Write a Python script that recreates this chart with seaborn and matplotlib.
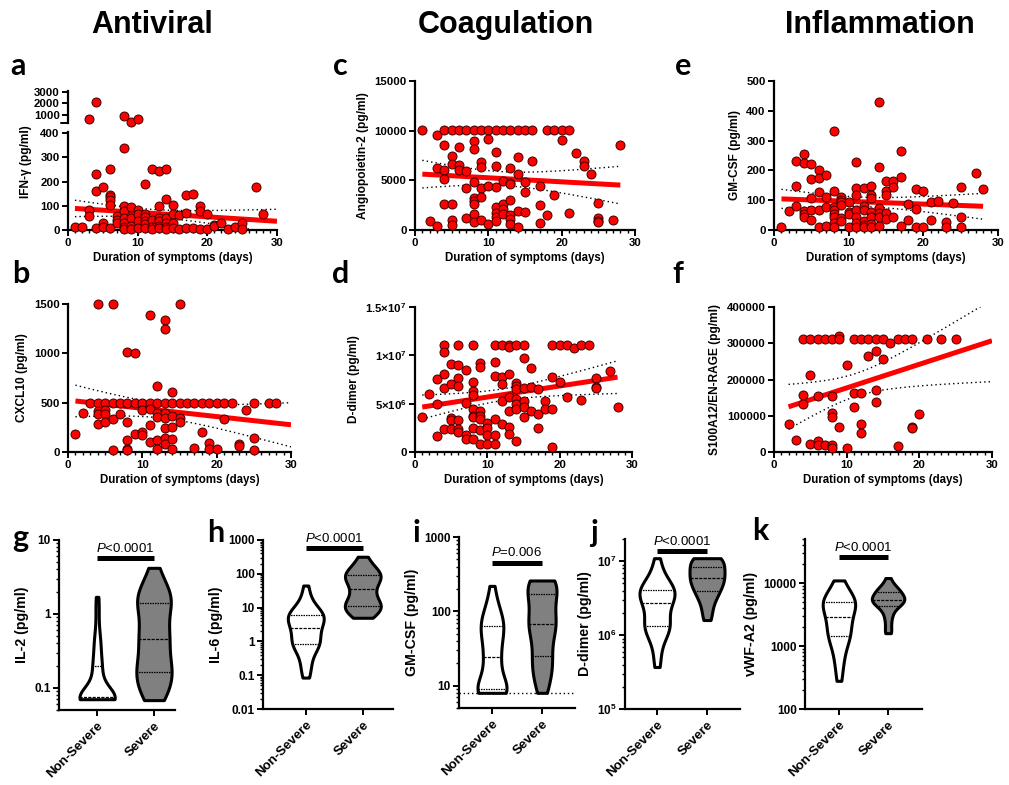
import matplotlib
matplotlib.use("Agg")
import matplotlib.pyplot as plt
import numpy as np
import pandas as pd
import seaborn as sns
from matplotlib.ticker import MultipleLocator, NullFormatter

W, H = 1009, 785

# ---------------- scatter data (day of symptoms, concentration pg/ml) ----------------
a_days = [1, 2, 3, 3, 3, 4, 4, 4, 4, 5, 5, 5, 6, 6, 6, 6, 6, 6, 7, 7, 7,
          8, 8, 8, 8, 8, 8, 8, 8, 9, 9, 9, 9, 9, 10, 10, 10, 10, 10,
          11, 11, 11, 11, 11, 11, 12, 12, 12, 12, 13, 13, 13, 13, 13, 13,
          14, 14, 14, 14, 14, 14, 15, 15, 15, 15, 16, 16, 17, 17, 17, 18, 18,
          19, 19, 19, 20, 20, 21, 21, 22, 23, 24, 25, 25, 27, 28]
a_ifng = [11, 14, 690, 83, 58, 2150, 230, 163, 10, 177, 28, 14, 252, 146, 138, 124, 102, 10, 59, 41, 28,
          970, 340, 99, 80, 51, 28, 14, 4, 465, 97, 48, 17, 4, 660, 83, 66, 37, 7,
          190, 65, 52, 39, 23, 10, 254, 41, 14, 4, 245, 100, 51, 39, 17, 7,
          252, 127, 48, 28, 14, 4, 102, 65, 28, 10, 62, 4, 145, 72, 8, 148, 10,
          101, 80, 4, 66, 3, 22, 17, 30, 3, 11, 28, 3, 179, 66]

b_days = [1, 2, 3, 4, 4, 4, 4, 4, 5, 5, 5, 5, 6, 6, 6, 6, 7, 7,
          8, 8, 8, 8, 8, 8, 9, 9, 9, 10, 10, 10, 10, 11, 11, 11, 11, 11,
          12, 12, 12, 12, 12, 12, 13, 13, 13, 13, 13, 13, 13, 13,
          14, 14, 14, 14, 14, 14, 15, 15, 15, 15, 16, 17, 17, 18, 18,
          19, 19, 19, 20, 20, 21, 21, 22, 23, 23, 24, 25, 25, 25, 27, 28]
b_cxcl10 = [180, 400, 500, 1500, 500, 420, 390, 280, 500, 430, 383, 305, 1500, 500, 330, 17, 500, 383,
            1010, 500, 300, 120, 35, 20, 1005, 500, 180, 500, 430, 200, 170, 1385, 500, 440, 270, 100,
            670, 500, 395, 350, 120, 35, 1340, 1250, 500, 395, 340, 245, 145, 85,
            613, 500, 365, 255, 135, 35, 1500, 500, 340, 305, 500, 500, 40, 500, 203,
            500, 90, 35, 500, 35, 500, 330, 500, 85, 58, 423, 500, 145, 25, 500, 500]

c_days = [1, 2, 3, 3, 3, 4, 4, 4, 4, 4, 5, 5, 5, 5, 5, 5, 6, 6, 6, 6, 7, 7, 7, 7,
          8, 8, 8, 8, 8, 8, 8, 8, 8, 9, 9, 9, 9, 9, 9, 10, 10, 10, 10,
          11, 11, 11, 11, 11, 11, 11, 11, 12, 12, 12, 12, 12,
          13, 13, 13, 13, 13, 13, 13, 13, 14, 14, 14, 14, 14, 15, 15, 15, 15,
          16, 16, 17, 17, 17, 18, 18, 19, 19, 20, 20, 21, 21, 22, 23, 23, 24,
          25, 25, 25, 25, 27, 28]
c_ang2 = [10100, 950, 9550, 6200, 440, 10100, 8530, 6030, 5180, 2570, 10100, 7480, 6600, 2600, 1020, 540,
          10100, 8400, 6500, 6060, 10100, 5930, 4230, 1180,
          10100, 8970, 8130, 4810, 3250, 2880, 2640, 1590, 850, 10100, 6870, 6330, 4230, 3350, 980,
          10100, 9210, 4470, 580,
          10100, 7820, 6430, 4300, 2270, 1760, 1290, 950, 10100, 4910, 2610, 2130, 1625,
          10100, 6260, 4740, 4670, 2980, 1460, 1120, 610, 10100, 7380, 5650, 1960, 340, 10100, 4810, 3830, 1860,
          10100, 6910, 4400, 2500, 680, 10100, 1560, 10100, 3490, 10100, 9110, 10100, 1690, 7750, 6940, 6430, 5650,
          2680, 1190, 950, 780, 1020, 8570]

d_days = [1, 2, 3, 3, 3, 4, 4, 4, 4, 4, 5, 5, 5, 5, 5, 6, 6, 6, 6, 6, 6, 6, 7, 7, 7, 7,
          8, 8, 8, 8, 8, 8, 8, 8, 8, 9, 9, 9, 9, 9, 9, 9, 10, 10, 10, 10,
          11, 11, 11, 11, 11, 11, 12, 12, 12, 12, 12, 13, 13, 13, 13, 13, 13, 13,
          14, 14, 14, 14, 14, 14, 14, 14, 15, 15, 15, 15, 15, 15,
          16, 16, 16, 17, 17, 17, 18, 18, 19, 19, 19, 19, 20, 20, 21, 21, 22, 23, 23, 24,
          25, 25, 25, 27, 28]
d_ddimer = np.array([3.64, 5.99, 7.59, 4.92, 1.63, 11.1, 10.36, 8.04, 6.58, 2.36, 9.08, 7.03, 3.53, 3.29, 2.43,
                     11.1, 8.97, 7.69, 6.82, 3.36, 2.43, 2.08, 8.49, 5.02, 1.80, 1.35,
                     11.1, 7.21, 6.31, 5.89, 4.47, 3.74, 3.57, 2.53, 1.39, 9.25, 8.76, 4.23, 3.74, 3.40, 2.25, 0.80,
                     3.01, 2.53, 1.80, 0.80,
                     11.1, 9.32, 7.83, 3.46, 1.73, 0.87, 11.1, 7.76, 7.03, 5.30, 2.94,
                     11.1, 10.9, 8.04, 5.72, 4.23, 2.60, 1.87,
                     11.1, 7.17, 6.82, 6.51, 5.51, 4.95, 4.50, 1.11, 11.1, 9.70, 6.62, 5.30, 4.68, 3.67,
                     8.70, 6.75, 4.26, 6.51, 3.98, 2.49, 5.30, 4.47, 11.1, 7.79, 4.47, 0.52, 11.1, 7.24,
                     11.1, 5.72, 10.74, 11.1, 5.40, 11.1,
                     7.66, 6.69, 6.62, 8.35, 4.64]) * 1e6

e_days = [1, 2, 3, 3, 3, 4, 4, 4, 4, 4, 5, 5, 5, 5, 5, 6, 6, 6, 6, 6, 7, 7, 7, 7,
          8, 8, 8, 8, 8, 8, 8, 8, 9, 9, 9, 9, 9, 9, 10, 10, 10, 10,
          11, 11, 11, 11, 11, 11, 11, 12, 12, 12, 12, 12, 12, 13, 13, 13, 13, 13, 13, 13,
          14, 14, 14, 14, 14, 14, 15, 15, 15, 15, 15, 16, 16, 16, 17, 17, 17, 18, 18,
          19, 19, 19, 20, 20, 21, 21, 22, 23, 23, 24, 25, 25, 25, 27, 28]
e_gmcsf = [9, 65, 230, 147, 79, 256, 225, 64, 53, 43, 220, 172, 109, 67, 33, 200, 173, 126, 67, 10,
           184, 112, 78, 15,
           331, 132, 78, 68, 55, 45, 23, 10, 112, 102, 93, 85, 40, 29, 95, 59, 53, 9,
           227, 141, 116, 68, 45, 23, 10, 141, 82, 68, 29, 18, 10, 149, 118, 109, 61, 43, 20, 9,
           429, 212, 73, 56, 45, 14, 165, 130, 116, 56, 37, 165, 143, 45, 265, 178, 15, 87, 34,
           139, 69, 9, 132, 11, 93, 34, 98, 26, 9, 90, 143, 43, 9, 192, 138]

f_days = [2, 3, 4, 4, 4, 5, 5, 5, 6, 6, 6, 6, 7, 7, 8, 8, 8, 8, 8, 8, 9, 9, 9, 10, 10,
          11, 11, 11, 12, 12, 12, 12, 13, 13, 14, 14, 14, 14, 15, 15, 16, 17, 17, 18,
          19, 19, 19, 20, 21, 23, 25]
f_s100a12 = np.array([78, 33, 311, 158, 132, 311, 212, 21, 311, 154, 29, 20, 311, 18,
                      311, 155, 107, 96, 18, 11, 320, 311, 68, 240, 11,
                      311, 164, 124, 311, 162, 78, 52, 311, 266, 311, 280, 171, 139, 311, 256, 301,
                      311, 17, 311, 311, 70, 67, 105, 311, 311, 311]) * 1e3

# ---------------- violin data (pg/ml) ----------------
groups = ["Non-Severe", "Severe"]
g_nonsevere = [0.07, 0.07, 0.07, 0.07, 0.07, 0.07, 0.07, 0.07, 0.07, 0.07, 0.07, 0.07, 0.07, 0.07,
               0.07, 0.07, 0.07, 0.07, 0.07, 0.07, 0.075, 0.075, 0.08, 0.08, 0.09, 0.1, 0.11, 0.13,
               0.15, 0.17, 0.19, 0.2, 0.22, 0.25, 0.3, 0.38, 0.42, 0.45, 0.6, 0.9, 1.3, 1.7]
g_severe = [0.068, 0.07, 0.08, 0.09, 0.1, 0.11, 0.13, 0.14, 0.15, 0.16, 0.17, 0.19, 0.2, 0.22, 0.26,
            0.3, 0.35, 0.4, 0.43, 0.48, 0.52, 0.57, 0.62, 0.7, 0.85, 1.0, 1.2, 1.35, 1.45, 1.5, 1.6,
            1.7, 1.8, 1.9, 2.2, 2.6, 3.2, 4.2]
h_nonsevere = [0.085, 0.12, 0.18, 0.25, 0.35, 0.5, 0.6, 0.7, 0.8, 0.85, 0.9, 1.0, 1.1, 1.3, 1.6, 1.9,
               2.2, 2.4, 2.6, 3.0, 3.5, 4.0, 4.5, 5.0, 5.3, 5.6, 6.0, 6.3, 6.6, 7.0, 8.0, 9.5, 12, 16,
               25, 45]
h_severe = [5, 6, 7, 8, 9, 10, 11, 12, 13, 15, 18, 22, 28, 35, 42, 50, 60, 70, 80, 90, 95, 100, 110,
            130, 160, 220, 320]
i_nonsevere = [8, 8, 8, 8, 8, 8, 8, 8.5, 9, 9.5, 10, 11, 13, 16, 19, 22, 23, 25, 30, 35, 40, 45, 50,
               55, 60, 65, 68, 72, 80, 90, 100, 120, 150, 220]
i_severe = [8, 9, 11, 13, 15, 17, 19, 21, 23, 26, 30, 36, 42, 48, 55, 60, 63, 66, 70, 75, 82, 90, 100,
            120, 140, 150, 170, 180, 200, 220, 230, 240, 250, 255, 260, 260]
j_nonsevere = np.array([0.37, 0.5, 0.7, 0.9, 1.0, 1.1, 1.2, 1.3, 1.4, 1.45, 1.5, 1.7, 2.0, 2.3, 2.5, 2.7,
                        2.9, 3.1, 3.3, 3.5, 3.7, 3.9, 4.0, 4.2, 4.4, 4.6, 5.0, 5.5, 6.5, 8.0, 11]) * 1e6
j_severe = np.array([1.6, 2.0, 2.5, 3.0, 3.4, 3.7, 4.0, 4.4, 4.8, 5.1, 5.4, 5.7, 6.0, 6.5, 7.0, 7.5,
                     7.8, 8.3, 9.0, 10, 11, 11, 11, 11]) * 1e6
k_nonsevere = [280, 450, 600, 800, 1000, 1200, 1350, 1500, 1600, 1800, 2100, 2400, 2600, 2900, 3300,
               3700, 4200, 4600, 4900, 5000, 5100, 5300, 5600, 6200, 7500, 9000, 11000]
k_severe = [1600, 1800, 2500, 3000, 3600, 4200, 4500, 4800, 5000, 5200, 5300, 5400, 5500, 5600, 5800,
            6200, 7000, 7500, 7700, 7800, 8000, 9000, 12000]
p_texts = ["$\\it{P}$<0.0001", "$\\it{P}$<0.0001", "$\\it{P}$=0.006", "$\\it{P}$<0.0001", "$\\it{P}$<0.0001"]

RED = "#ff0000"
PAL = {"Non-Severe": "white", "Severe": "#808080"}
TICK_FS = 8.2
LABEL_FS = 8.6
VIOLIN_LABEL_FS = 10.2
VIOLIN_XTICK_FS = 9.5

sns.set_theme(style="ticks")
plt.rcParams.update({
    "font.family": ["Liberation Sans", "DejaVu Sans"],
    "font.weight": "bold",
    "axes.labelweight": "bold",
    "text.color": "black",
    "axes.labelcolor": "black",
    "axes.edgecolor": "black",
    "xtick.color": "black",
    "ytick.color": "black",
    "mathtext.fontset": "custom",
    "mathtext.rm": "Liberation Sans",
    "mathtext.it": "Liberation Sans:style=italic:weight=normal",
    "mathtext.bf": "Liberation Sans:weight=bold",
    "mathtext.default": "regular",
})

fig = plt.figure(figsize=(W / 100, H / 100), dpi=100)


def px_axes(x0, x1, ytop, ybot):
    return fig.add_axes([x0 / W, 1 - ybot / H, (x1 - x0) / W, (ybot - ytop) / H])


def style_axes(ax, tick_fs=TICK_FS):
    sns.despine(ax=ax)
    for side in ("left", "bottom"):
        ax.spines[side].set_linewidth(1.6)
    ax.tick_params(which="major", length=4, width=1.4, labelsize=tick_fs, pad=2)
    ax.tick_params(which="minor", length=2.5, width=1.0)


def days_axis(ax):
    ax.set_xlim(0, 30)
    ax.set_xticks([0, 10, 20, 30])
    ax.xaxis.set_minor_locator(MultipleLocator(1))
    ax.set_xlabel("Duration of symptoms (days)", fontsize=8.3, labelpad=3)


def draw_points(ax, days, vals):
    sns.scatterplot(x=days, y=vals, ax=ax, color=RED, edgecolor="#3a0000", linewidth=0.7,
                    s=42, zorder=4, legend=False, clip_on=False)


def draw_fit(ax, days, vals, x_end):
    x = np.asarray(days, float)
    y = np.asarray(vals, float)
    slope, icpt = np.polyfit(x, y, 1)
    n = len(x)
    s = np.sqrt(np.sum((y - (icpt + slope * x)) ** 2) / (n - 2))
    sxx = np.sum((x - x.mean()) ** 2)
    xs = np.linspace(x.min(), x_end, 120)
    yhat = icpt + slope * xs
    t = 1.96 + (1.96 ** 3 + 1.96) / (4 * (n - 2))
    band = t * s * np.sqrt(1 / n + (xs - x.mean()) ** 2 / sxx)
    ax.plot(xs, yhat, color=RED, lw=3.6, zorder=3, solid_capstyle="butt")
    for yy in (yhat - band, yhat + band):
        ax.plot(xs, yy, color="black", lw=1.0, ls=(0, (1, 2.2)), zorder=2)


def scatter_panel(box, days, vals, ylim, yticks, ylabel, x_end, yticklabels=None):
    ax = px_axes(*box)
    draw_fit(ax, days, vals, x_end)
    draw_points(ax, days, vals)
    ax.set_ylim(*ylim)
    ax.set_yticks(yticks, labels=yticklabels if yticklabels else [str(v) for v in yticks])
    ax.set_ylabel(ylabel, fontsize=LABEL_FS)
    days_axis(ax)
    style_axes(ax)
    return ax


# ---- panel a (broken y axis) ----
a_low = [(d, v) for d, v in zip(a_days, a_ifng) if v < 400]
a_high = [(d, v) for d, v in zip(a_days, a_ifng) if v >= 400]
ax_top = px_axes(68, 277, 90.5, 122.6)
draw_points(ax_top, [d for d, _ in a_high], [v for _, v in a_high])
ax_top.set_ylim(380, 3100)
ax_top.set_yticks([1000, 2000, 3000], labels=["1000", "2000", "3000"])
ax_top.set_xlim(0, 30)
style_axes(ax_top)
ax_top.spines["bottom"].set_visible(False)
ax_top.tick_params(axis="x", which="both", bottom=False, labelbottom=False)
ax_top.plot([-0.035, 0], [0, 0], transform=ax_top.transAxes, color="black", lw=1.4, clip_on=False)

ax_a = px_axes(68, 277, 132, 230)
draw_fit(ax_a, [d for d, _ in a_low], [v for _, v in a_low], 30)
draw_points(ax_a, [d for d, _ in a_low], [v for _, v in a_low])
ax_a.set_ylim(0, 405)
ax_a.set_yticks([0, 100, 200, 300, 400], labels=["0", "100", "200", "300", "400"])
days_axis(ax_a)
style_axes(ax_a)
ax_a.set_ylabel("IFN-γ (pg/ml)", fontsize=LABEL_FS)
ax_a.yaxis.set_label_coords(-0.17, 0.7)

scatter_panel((68, 291, 304, 452), b_days, b_cxcl10, (0, 1500), [0, 500, 1000, 1500],
              "CXCL10 (pg/ml)", 30)
scatter_panel((415, 635, 81, 230), c_days, c_ang2, (0, 15000), [0, 5000, 10000, 15000],
              "Angiopoietin-2 (pg/ml)", 28)
scatter_panel((415, 632, 307, 452), d_days, d_ddimer, (0, 1.5e7), [0, 5e6, 1e7, 1.5e7],
              "D-dimer (pg/ml)", 28,
              yticklabels=["0", "5×10$^{6}$", "1×10$^{7}$", "1.5×10$^{7}$"])
scatter_panel((774, 998, 81, 230), e_days, e_gmcsf, (0, 500), [0, 100, 200, 300, 400, 500],
              "GM-CSF (pg/ml)", 28)
scatter_panel((774, 992, 307, 452), f_days, f_s100a12, (0, 400000),
              [0, 100000, 200000, 300000, 400000], "S100A12/EN-RAGE (pg/ml)", 30)


# ---- violin panels ----
def violin_panel(box, nonsevere, severe, xlim, ylim, yticks, yticklabels, ylabel, ptext, bar_y, width):
    ax = px_axes(*box)
    df = pd.DataFrame({
        "group": ["Non-Severe"] * len(nonsevere) + ["Severe"] * len(severe),
        "value": list(nonsevere) + list(severe),
    })
    sns.violinplot(data=df, x="group", y="value", hue="group", order=groups, hue_order=groups,
                   palette=PAL, saturation=1, log_scale=True, cut=0, inner="quart",
                   width=width, density_norm="width", bw_adjust=0.8, linewidth=2.2,
                   linecolor="black", inner_kws={"linewidth": 0.9}, legend=False, ax=ax)
    ax.set_xlim(*xlim)
    ax.set_ylim(*ylim)
    ax.set_yticks(yticks, labels=yticklabels)
    ax.yaxis.set_minor_formatter(NullFormatter())
    ax.set_xticks([0, 1])
    ax.set_xticklabels(groups, rotation=45, ha="right", rotation_mode="anchor")
    ax.set_xlabel("")
    ax.set_ylabel(ylabel, fontsize=VIOLIN_LABEL_FS)
    style_axes(ax, tick_fs=8.5)
    ax.tick_params(axis="x", labelsize=VIOLIN_XTICK_FS, pad=3)
    ax.plot([0, 1], [bar_y, bar_y], color="black", lw=3.6, solid_capstyle="butt", clip_on=False)
    ax.annotate(ptext, xy=(0.5, bar_y), xytext=(0, 2.5), textcoords="offset points",
                ha="center", va="bottom", fontsize=9.5, fontweight="normal")
    return ax


violin_panel((59, 175, 540, 710), g_nonsevere, g_severe, (-0.67, 1.37), (0.05, 10),
             [0.1, 1, 10], ["0.1", "1", "10"], "IL-2 (pg/ml)", p_texts[0], 5.7, 0.62)
violin_panel((263, 393, 540, 709), h_nonsevere, h_severe, (-0.75, 1.53), (0.01, 1000),
             [0.01, 0.1, 1, 10, 100, 1000], ["0.01", "0.1", "1", "10", "100", "1000"],
             "IL-6 (pg/ml)", p_texts[1], 580, 0.63)
ax_i = violin_panel((459, 575, 537, 708), i_nonsevere, i_severe, (-0.66, 1.66), (5, 1000),
                    [10, 100, 1000], ["10", "100", "1000"], "GM-CSF (pg/ml)", p_texts[2], 450, 0.58)
ax_i.axhline(8, color="black", lw=1.0, ls=(0, (1, 2)), zorder=0)
violin_panel((625, 740, 539, 709), j_nonsevere, j_severe, (-0.64, 1.66), (1e5, 2e7),
             [1e5, 1e6, 1e7], ["10$^{5}$", "10$^{6}$", "10$^{7}$"], "D-dimer (pg/ml)", p_texts[3],
             1.37e7, 0.7)
violin_panel((805, 922, 539, 709), k_nonsevere, k_severe, (-0.69, 1.69), (100, 50000),
             [100, 1000, 10000], ["100", "1000", "10000"], "vWF-A2 (pg/ml)", p_texts[4], 25800, 0.66)

# ---- column titles and panel letters ----
for label, xc in zip(["Antiviral", "Coagulation", "Inflammation"], [152, 506, 880]):
    fig.text(xc / W, 1 - 33 / H, label, ha="center", va="baseline", fontsize=22, fontweight="bold")

letters = ["a", "b", "c", "d", "e", "f", "g", "h", "i", "j", "k"]
letter_pos = [(10, 75), (12, 283), (333, 75), (332, 283), (675, 75), (672, 283),
              (12, 547), (207, 542), (412, 542), (590, 542), (752, 540)]
for letter, (lx, ly) in zip(letters, letter_pos):
    fig.text(lx / W, 1 - ly / H, letter, ha="left", va="baseline", fontsize=22, fontweight="bold",
             family=["Lato", "DejaVu Sans"])

fig.savefig("out.png", dpi=100)
